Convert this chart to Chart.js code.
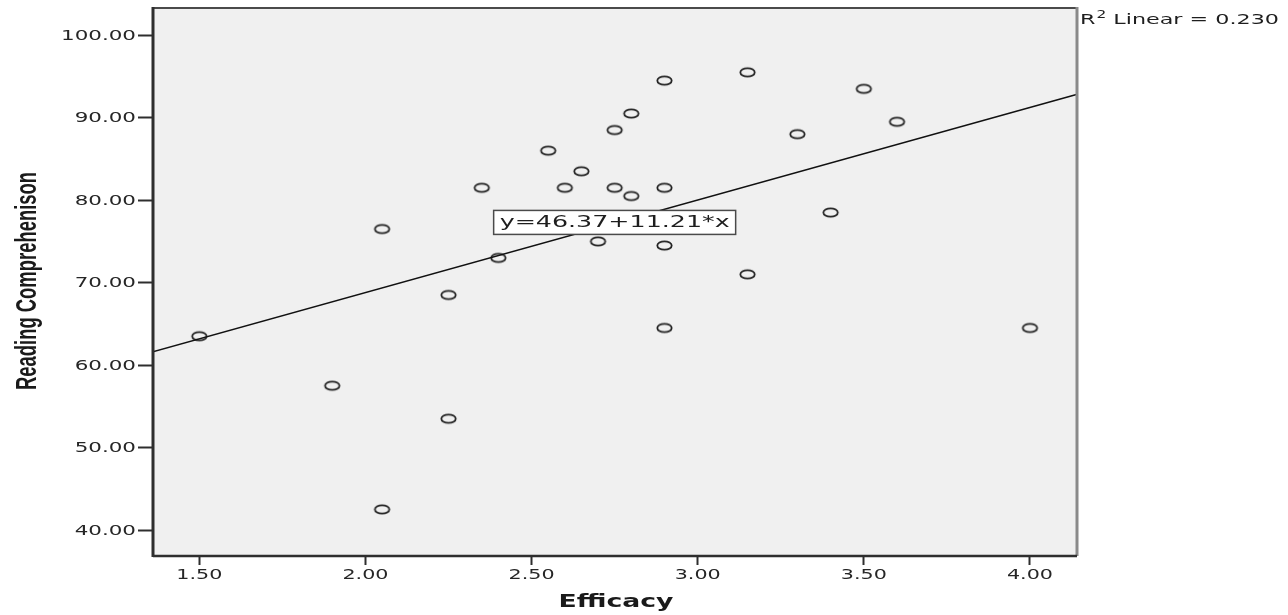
<!DOCTYPE html>
<html>
<head>
<meta charset="utf-8">
<script src="https://cdn.jsdelivr.net/npm/chart.js@4.4.1/dist/chart.umd.min.js"></script>
<style>
    html, body { margin: 0; padding: 0; background: #ffffff; }
    #chart { display: block; }
</style>
</head>
<body>
<canvas id="chart" width="1288" height="615"></canvas>
<script>
// Dados do gráfico
const efficacy = [1.50, 1.90, 2.05, 2.05, 2.25, 2.25, 2.35, 2.40, 2.55, 2.60, 2.65, 2.70, 2.75, 2.75,
    2.80, 2.80, 2.90, 2.90, 2.90, 2.90, 3.15, 3.15, 3.30, 3.40, 3.50, 3.60, 4.00];
const reading = [63.5, 57.5, 76.5, 42.5, 68.5, 53.5, 81.5, 73.0, 86.0, 81.5, 83.5, 75.0, 88.5, 81.5,
    90.5, 80.5, 94.5, 81.5, 74.5, 64.5, 95.5, 71.0, 88.0, 78.5, 93.5, 89.5, 64.5];

const fitLineX = [1.36, 4.14];
const fitLineY = [61.6, 92.8];

// Ticks e textos
const xTickValues = [1.5, 2.0, 2.5, 3.0, 3.5, 4.0];
const yTickValues = [40, 50, 60, 70, 80, 90, 100];
const xRange = [1.3605, 4.1416];
const yRange = [36.85, 103.3];
const xAxisTitle = 'Efficacy';
const yAxisTitle = 'Reading Comprehenison';
const fitLabel = 'y=46.37+11.21*x';
const fitLabelAt = [2.75, 77.3];
const rSquaredText = ' Linear = 0.230';

// Marcador: elipse vazada (o gráfico original está esticado na horizontal)
function makeMarker() {
    const c = document.createElement('canvas');
    c.width = 19;
    c.height = 13;
    const g = c.getContext('2d');
    g.beginPath();
    g.ellipse(9.5, 6.5, 7.2, 4.2, 0, 0, Math.PI * 2);
    g.strokeStyle = '#222222';
    g.lineWidth = 1.8;
    g.stroke();
    return c;
}

// Escreve texto esticado na horizontal
function stretchedText(ctx, text, x, y, font, sx, align, baseline, color) {
    ctx.save();
    ctx.font = font;
    ctx.fillStyle = color;
    ctx.textAlign = align;
    ctx.textBaseline = baseline;
    ctx.translate(x, y);
    ctx.scale(sx, 1);
    ctx.fillText(text, 0, 0);
    ctx.restore();
}

function fitScale(ctx, font, text, width) {
    ctx.save();
    ctx.font = font;
    const w = ctx.measureText(text).width;
    ctx.restore();
    return width / w;
}

// Plugin para fundo, moldura e textos
const spssFrame = {
    id: 'spssFrame',
    beforeDraw(chart) {
        const { ctx, chartArea: a } = chart;
        ctx.save();
        ctx.fillStyle = '#f0f0f0';
        ctx.fillRect(a.left, a.top, a.right - a.left, a.bottom - a.top);
        ctx.restore();
    },
    afterDatasetsDraw(chart) {
        const { ctx, chartArea: a } = chart;
        ctx.save();
        // topo
        ctx.strokeStyle = '#4a4a4a';
        ctx.lineWidth = 2;
        ctx.beginPath(); ctx.moveTo(a.left, a.top); ctx.lineTo(a.right, a.top); ctx.stroke();
        // direita
        ctx.strokeStyle = '#8a8a8a';
        ctx.lineWidth = 3;
        ctx.beginPath(); ctx.moveTo(a.right, a.top - 1); ctx.lineTo(a.right, a.bottom); ctx.stroke();
        // esquerda e base
        ctx.strokeStyle = '#2e2e2e';
        ctx.lineWidth = 3;
        ctx.beginPath(); ctx.moveTo(a.left, a.top - 1); ctx.lineTo(a.left, a.bottom + 1); ctx.stroke();
        ctx.lineWidth = 2.5;
        ctx.beginPath(); ctx.moveTo(a.left, a.bottom); ctx.lineTo(a.right, a.bottom); ctx.stroke();
        ctx.restore();
    },
    afterDraw(chart) {
        const { ctx, chartArea: a } = chart;
        const xs = chart.scales.x;
        const ys = chart.scales.y;
        const tickFont = '14.5px "DejaVu Sans"';

        // rótulos do eixo Y
        const syY = fitScale(ctx, tickFont, '100.00', 75);
        yTickValues.forEach(v => {
            stretchedText(ctx, v.toFixed(2), a.left - 17, ys.getPixelForValue(v) + 1, tickFont, syY, 'right', 'middle', '#262626');
        });

        // rótulos do eixo X
        const sxX = fitScale(ctx, tickFont, '1.50', 46);
        xTickValues.forEach(v => {
            stretchedText(ctx, v.toFixed(2), xs.getPixelForValue(v), 579, tickFont, sxX, 'center', 'alphabetic', '#262626');
        });

        // título do eixo X
        const xtFont = 'bold 18px "DejaVu Sans"';
        const sxT = fitScale(ctx, xtFont, xAxisTitle, 115);
        stretchedText(ctx, xAxisTitle, (a.left + a.right) / 2 + 1, 607, xtFont, sxT, 'center', 'alphabetic', '#1a1a1a');

        // título do eixo Y (rotacionado)
        const ytFont = 'bold 30px "Liberation Sans"';
        const syT = fitScale(ctx, ytFont, yAxisTitle, 218);
        ctx.save();
        ctx.translate(28, 281);
        ctx.rotate(-Math.PI / 2);
        ctx.scale(syT, 1);
        ctx.font = ytFont;
        ctx.fillStyle = '#1a1a1a';
        ctx.textAlign = 'center';
        ctx.textBaseline = 'middle';
        ctx.fillText(yAxisTitle, 0, 0);
        ctx.restore();

        // caixa da equação
        const eqFont = '15.5px "DejaVu Sans"';
        const sxEq = fitScale(ctx, eqFont, fitLabel, 230);
        const cx = xs.getPixelForValue(fitLabelAt[0]);
        const cy = ys.getPixelForValue(fitLabelAt[1]);
        ctx.save();
        ctx.fillStyle = '#ffffff';
        ctx.strokeStyle = '#4a4a4a';
        ctx.lineWidth = 1.5;
        ctx.fillRect(cx - 121, cy - 12, 242, 24);
        ctx.strokeRect(cx - 121, cy - 12, 242, 24);
        ctx.restore();
        stretchedText(ctx, fitLabel, cx, cy + 1, eqFont, sxEq, 'center', 'middle', '#1e1e1e');

        // R² Linear
        const rFont = '14.5px "DejaVu Sans"';
        const supFont = '10px "DejaVu Sans"';
        ctx.save();
        ctx.font = rFont;
        const wR = ctx.measureText('R').width;
        const wRest = ctx.measureText(rSquaredText).width;
        ctx.font = supFont;
        const wSup = ctx.measureText('2').width;
        ctx.restore();
        const sR = 198 / (wR + wSup + wRest);
        const x0 = a.right + 3;
        stretchedText(ctx, 'R', x0, 24, rFont, sR, 'left', 'alphabetic', '#1e1e1e');
        stretchedText(ctx, '2', x0 + wR * sR + 1, 18, supFont, sR, 'left', 'alphabetic', '#1e1e1e');
        stretchedText(ctx, rSquaredText, x0 + (wR + wSup) * sR + 1, 24, rFont, sR, 'left', 'alphabetic', '#1e1e1e');
    }
};

const points = efficacy.map((x, i) => ({ x: x, y: reading[i] }));
const fitPoints = fitLineX.map((x, i) => ({ x: x, y: fitLineY[i] }));

const chart = new Chart(document.getElementById('chart').getContext('2d'), {
    data: {
        datasets: [
            {
                type: 'line',
                data: fitPoints,
                borderColor: '#111111',
                borderWidth: 1.5,
                pointRadius: 0,
                fill: false
            },
            {
                type: 'scatter',
                data: points,
                pointStyle: makeMarker(),
                pointRadius: 7
            }
        ]
    },
    options: {
        responsive: false,
        animation: false,
        devicePixelRatio: 1,
        layout: {
            padding: { top: 7, right: 211, left: 0, bottom: 0 }
        },
        plugins: {
            legend: { display: false },
            tooltip: { enabled: false },
            title: { display: false }
        },
        scales: {
            x: {
                type: 'linear',
                min: xRange[0],
                max: xRange[1],
                afterBuildTicks: s => { s.ticks = xTickValues.map(v => ({ value: v })); },
                afterFit: s => { s.height = 59; },
                ticks: { display: false },
                border: { display: false },
                grid: {
                    drawOnChartArea: false,
                    drawTicks: true,
                    tickLength: 9,
                    tickColor: '#2e2e2e',
                    tickWidth: 2
                }
            },
            y: {
                type: 'linear',
                min: yRange[0],
                max: yRange[1],
                afterBuildTicks: s => { s.ticks = yTickValues.map(v => ({ value: v })); },
                afterFit: s => { s.width = 153; },
                ticks: { display: false },
                border: { display: false },
                grid: {
                    drawOnChartArea: false,
                    drawTicks: true,
                    tickLength: 15,
                    tickColor: '#2e2e2e',
                    tickWidth: 2
                }
            }
        }
    },
    plugins: [spssFrame]
});
</script>
</body>
</html>
